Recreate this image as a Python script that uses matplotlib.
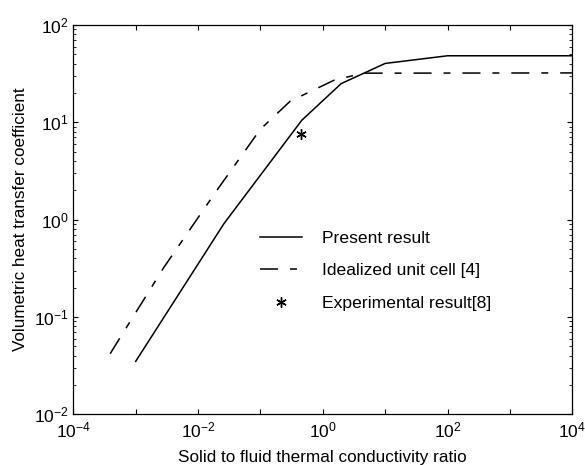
import matplotlib
matplotlib.use('Agg')
import matplotlib.pyplot as plt
from matplotlib.ticker import LogLocator, NullLocator

plt.rcParams['font.family'] = ['Liberation Sans', 'DejaVu Sans']
plt.rcParams['mathtext.fontset'] = 'custom'
plt.rcParams['mathtext.rm'] = 'Liberation Sans'
plt.rcParams['mathtext.it'] = 'Liberation Sans:italic'
plt.rcParams['lines.scale_dashes'] = False

# present result (solid)
ratio_present = [1e-3, 0.026, 0.46, 1.97, 10, 100, 1e4]
h_present = [0.035, 0.91, 10.5, 25, 40.3, 48.3, 48.3]

# idealized unit cell [4] (dash-dot)
ratio_cell = [3.9e-4, 2.8e-3, 0.02, 0.1, 0.3, 1.5, 4.4, 1e4]
h_cell = [0.042, 0.32, 2.0, 8.5, 16.5, 27, 32, 32.2]

# experimental result [8]
ratio_exp = [0.45]
h_exp = [7.6]

x_ticks = [1e-4, 1e-3, 1e-2, 1e-1, 1e0, 1e1, 1e2, 1e3, 1e4]
x_labels = ['$10^{-4}$', '', '$10^{-2}$', '', '$10^{0}$', '', '$10^{2}$', '', '$10^{4}$']
y_ticks = [1e-2, 1e-1, 1e0, 1e1, 1e2]
y_labels = ['$10^{-2}$', '$10^{-1}$', '$10^{0}$', '$10^{1}$', '$10^{2}$']

fig = plt.figure(figsize=(5.85, 4.65), dpi=100)
ax = fig.add_axes([0.1253, 0.109, 0.853, 0.8372])

present, = ax.plot(ratio_present, h_present, 'k-', lw=1.1)
cell, = ax.plot(ratio_cell, h_cell, color='k', lw=1.1,
                linestyle=(0, (13, 8.6, 5, 8.6)))
exp, = ax.plot(ratio_exp, h_exp, linestyle='none', marker=(6, 2, 0),
               ms=7.5, mew=1.0, color='k')

ax.set_xscale('log')
ax.set_yscale('log')
ax.set_xlim(1e-4, 1e4)
ax.set_ylim(1e-2, 1e2)

ax.set_xticks(x_ticks)
ax.set_xticklabels(x_labels)
ax.xaxis.set_minor_locator(NullLocator())
ax.set_yticks(y_ticks)
ax.set_yticklabels(y_labels)
ax.yaxis.set_minor_locator(LogLocator(base=10, subs=range(2, 10), numticks=20))

ax.tick_params(which='both', direction='in', top=True, right=True)
ax.tick_params(which='major', length=3.6, width=0.8, labelsize=12.5)
ax.tick_params(axis='x', which='major', pad=4.5)
ax.tick_params(axis='y', which='major', pad=3.5)
ax.tick_params(which='minor', length=2.2, width=0.6)
for s in ax.spines.values():
    s.set_linewidth(0.9)

ax.set_xlabel('Solid to fluid thermal conductivity ratio', fontsize=12.3)
ax.set_ylabel('Volumetric heat transfer coefficient', fontsize=12.3)
ax.xaxis.set_label_coords(0.5, -0.092)
ax.yaxis.set_label_coords(-0.09, 0.5)

ax.legend([present, cell, exp],
          ['Present result', 'Idealized unit cell [4]', 'Experimental result[8]'],
          loc='upper left', bbox_to_anchor=(0.374, 0.471), frameon=False,
          fontsize=12.6, handlelength=2.38, handletextpad=1.14,
          labelspacing=0.97, borderpad=0, borderaxespad=0)

fig.savefig('out.png', dpi=100)
